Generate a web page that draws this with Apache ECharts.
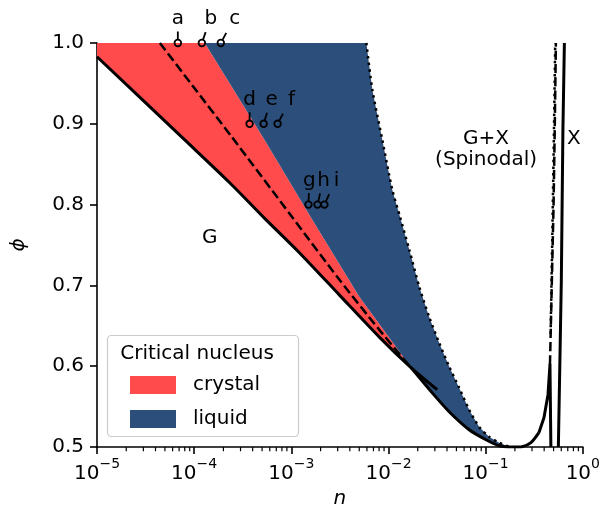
<!DOCTYPE html>
<html>
<head>
<meta charset="utf-8">
<script src="https://cdn.jsdelivr.net/npm/echarts@6/dist/echarts.min.js"></script>
<style>
  html, body { margin: 0; padding: 0; background: #fff; }
  #chart { width: 603px; height: 514px; }
</style>
</head>
<body>
<div id="chart"></div>
<script>
// Phase diagram in the (n, phi) plane. Every point is [n, phi].

// Gas-side boundary (upper straight part plus its short metastable extension)
const gasBoundary = [
  [1e-5, 0.983], [8.0e-5, 0.880], [2.32e-4, 0.827], [5.31e-4, 0.783],
  [1.21e-3, 0.7405], [3.13e-3, 0.688], [8.05e-3, 0.636], [0.01714, 0.598],
  [0.0317, 0.571]
];
// Lower branch: curves down to the minimum, rises to the cusp and drops back
const lowerBranch = [
  [0.01714, 0.598], [0.0282, 0.567], [0.0421, 0.5437], [0.0676, 0.5214],
  [0.1009, 0.509], [0.1374, 0.5016], [0.196, 0.500], [0.237, 0.5004],
  [0.2925, 0.5053], [0.353, 0.5177], [0.398, 0.5363], [0.438, 0.5647],
  [0.459, 0.602], [0.469, 0.500]
];
// Dense-side boundary of the X phase
const xBoundary = [[0.560, 0.500], [0.601, 0.707], [0.624, 0.893], [0.646, 1.000]];
// Spinodal (dotted), left and right branches
const spinodalLeft = [
  [5.92e-3, 1.000], [6.82e-3, 0.942], [8.64e-3, 0.880], [0.01093, 0.8185],
  [0.0132, 0.784], [0.01637, 0.744], [0.0207, 0.6985], [0.0262, 0.661],
  [0.0332, 0.629], [0.0421, 0.5995], [0.0533, 0.5734], [0.0676, 0.546],
  [0.0855, 0.525], [0.1083, 0.5128], [0.1374, 0.5053], [0.174, 0.5004]
];
const spinodalRight = [[0.466, 0.64], [0.485, 0.76], [0.503, 0.88], [0.520, 1.000]];
// Dashed boundaries
const dashedLeft = [
  [4.44e-5, 1.000], [1.037e-4, 0.942], [2.43e-4, 0.884], [1.028e-3, 0.784],
  [3.13e-3, 0.707], [8.05e-3, 0.645], [0.01714, 0.598]
];
const dashedRight = [[0.459, 0.602], [0.475, 0.68], [0.500, 0.80], [0.515, 0.90], [0.528, 1.000]];
// Border between crystal and liquid critical nuclei
const crystalLiquidBorder = [
  [1.285e-4, 1.000], [5.31e-4, 0.880], [1.65e-3, 0.781], [5.01e-3, 0.686], [0.01714, 0.598]
];

// Labelled state points
const pointNames = ['a', 'b', 'c', 'd', 'e', 'f', 'g', 'h', 'i'];
const pointN     = [6.79e-5, 1.2e-4, 1.88e-4, 3.72e-4, 5.19e-4, 7.22e-4, 1.50e-3, 1.86e-3, 2.19e-3];
const pointPhi   = [1.0, 1.0, 1.0, 0.9, 0.9, 0.9, 0.8, 0.8, 0.8];

// Region annotations
const regionText = ['G', 'G+X', '(Spinodal)', 'X'];
const regionN    = [1.445e-4, 0.101, 0.101, 0.808];
const regionPhi  = [0.759, 0.882, 0.856, 0.882];

// Axis ticks
const xDecades = [-5, -4, -3, -2, -1, 0];
const yTicks = [0.5, 0.6, 0.7, 0.8, 0.9, 1.0];

const FONT = 'DejaVu Sans';
const RED = '#ff4b4b';
const BLUE = '#2c4e7b';

// label placement around each state point (pixels)
const labelShift = [[0, -24], [9, -24], [14, -24], [0, -24], [8, -24], [14, -24], [1, -24], [6, -24], [12, -24]];

// polygons for the two filled regions
const crystalPoly = [[1e-5, 1.0]].concat(crystalLiquidBorder,
  gasBoundary.slice(0, 8).reverse());
const liquidPoly = crystalLiquidBorder.slice(0, 1).concat(spinodalLeft,
  lowerBranch.slice(0, 6).reverse(), crystalLiquidBorder.slice().reverse());

// minor ticks of the log axis
const minorTicks = [];
xDecades.slice(0, -1).forEach(d => { for (let k = 2; k <= 9; k++) minorTicks.push([k * Math.pow(10, d), 0.5]); });

const chart = echarts.init(document.getElementById('chart'), null, { renderer: 'canvas' });

function polygonSeries(name, poly, color) {
  return {
    name: name, type: 'custom', coordinateSystem: 'cartesian2d',
    itemStyle: { color: color }, silent: true, z: 1,
    data: [poly[0]],
    renderItem: function (params, api) {
      return {
        type: 'polygon',
        shape: { points: poly.map(p => api.coord(p)) },
        style: { fill: color, stroke: null }
      };
    }
  };
}

function lineSeries(data, width, type, smooth) {
  return {
    type: 'line', data: data, symbol: 'none', silent: true, z: 3,
    smooth: smooth || false,
    lineStyle: { color: '#000', width: width, type: type, cap: 'butt', join: 'round' }
  };
}

const option = {
  animation: false,
  backgroundColor: '#fff',
  grid: { left: 97, right: 19, top: 43, bottom: 67, containLabel: false },
  xAxis: {
    type: 'log', logBase: 10, min: 1e-5, max: 1, interval: 1,
    name: 'n', nameLocation: 'middle', nameGap: 42,
    nameTextStyle: { fontSize: 20, fontFamily: FONT, fontStyle: 'italic', color: '#000' },
    axisLine: { show: true, onZero: false, lineStyle: { color: '#000', width: 1.6 } },
    axisTick: { show: true, inside: false, length: 7, lineStyle: { color: '#000', width: 1.6 } },
    splitLine: { show: false },
    axisLabel: {
      margin: 8, color: '#000',
      formatter: function (v) {
        const e = Math.round(Math.log10(v));
        return '{b|10}{e|' + (e < 0 ? '\u2212' : '') + Math.abs(e) + '}';
      },
      rich: {
        b: { fontSize: 20, fontFamily: FONT, color: '#000', padding: [9, 0, 0, 0] },
        e: { fontSize: 14, fontFamily: FONT, color: '#000', padding: [0, 0, 10, 0] }
      }
    }
  },
  yAxis: {
    type: 'value', min: 0.5, max: 1.0, interval: 0.1,
    name: '\u03d5', nameLocation: 'middle', nameGap: 68, nameRotate: 90,
    nameTextStyle: { fontSize: 20, fontFamily: FONT, fontStyle: 'italic', color: '#000' },
    axisLine: { show: true, onZero: false, lineStyle: { color: '#000', width: 1.6 } },
    axisTick: { show: true, inside: false, length: 7, lineStyle: { color: '#000', width: 1.6 } },
    splitLine: { show: false },
    axisLabel: {
      margin: 13, color: '#000', fontSize: 20, fontFamily: FONT,
      formatter: v => v.toFixed(1)
    }
  },
  legend: {
    left: 130, top: 375, orient: 'vertical', icon: 'rect', selectedMode: false,
    itemWidth: 46, itemHeight: 18, itemGap: 14, padding: 0, z: 5,
    data: ['crystal', 'liquid'],
    textStyle: { fontSize: 20, fontFamily: FONT, color: '#000', lineHeight: 18, padding: [0, 0, 0, 12] }
  },
  graphic: [
    {
      type: 'rect', z: 3,
      shape: { x: 107.5, y: 335.5, width: 191, height: 101, r: 4 },
      style: { fill: 'rgba(255,255,255,0.8)', stroke: '#cccccc', lineWidth: 1.2 }
    },
    {
      type: 'text', z: 4, x: 197, y: 354,
      style: { text: 'Critical nucleus', fontSize: 20, fontFamily: FONT, fill: '#000', align: 'center', verticalAlign: 'middle' }
    }
  ],
  series: [
    polygonSeries('crystal', crystalPoly, RED),
    polygonSeries('liquid', liquidPoly, BLUE),
    lineSeries(gasBoundary, 3, 'solid', 0.25),
    lineSeries(lowerBranch.slice(0, 10), 3, 'solid', 0.25),
    lineSeries(lowerBranch.slice(9), 3, 'solid', false),
    lineSeries(xBoundary, 3, 'solid', false),
    lineSeries(dashedLeft, 2.5, [9.25, 4], 0.25),
    lineSeries(dashedRight, 2.5, [9.25, 4], false),
    lineSeries(spinodalLeft, 2.5, [2.5, 4.1], 0.25),
    lineSeries(spinodalRight, 2.5, [2.5, 4.1], false),
    {
      // state points with short leader strokes and letters
      type: 'custom', coordinateSystem: 'cartesian2d', silent: true, z: 6,
      data: pointN.map((n, i) => [n, pointPhi[i]]),
      renderItem: function (params, api) {
        const i = params.dataIndex;
        const p = api.coord([api.value(0), api.value(1)]);
        const s = labelShift[i];
        const d = [s[0], s[1] - 2];
        const len = Math.hypot(d[0], d[1]);
        const ux = d[0] / len, uy = d[1] / len;
        const r = 3.3;
        return {
          type: 'group',
          children: [
            { type: 'line', shape: { x1: p[0] + ux * r, y1: p[1] + uy * r, x2: p[0] + ux * 11.5, y2: p[1] + uy * 11.5 },
              style: { stroke: '#000', lineWidth: 1.8 } },
            { type: 'circle', shape: { cx: p[0], cy: p[1], r: r },
              style: { fill: 'none', stroke: '#000', lineWidth: 1.8 } },
            { type: 'text', x: p[0] + s[0], y: p[1] + s[1],
              style: { text: pointNames[i], fontSize: 20, fontFamily: FONT, fill: '#000', align: 'center', verticalAlign: 'middle' } }
          ]
        };
      }
    },
    {
      // region names
      type: 'custom', coordinateSystem: 'cartesian2d', silent: true, z: 6,
      data: regionN.map((n, i) => [n, regionPhi[i]]),
      renderItem: function (params, api) {
        const p = api.coord([api.value(0), api.value(1)]);
        return {
          type: 'text', x: p[0], y: p[1],
          style: { text: regionText[params.dataIndex], fontSize: 20, fontFamily: FONT, fill: '#000', align: 'center', verticalAlign: 'middle' }
        };
      }
    },
    {
      // minor ticks at 2..9 x 10^k
      type: 'custom', coordinateSystem: 'cartesian2d', silent: true, z: 6,
      data: minorTicks,
      renderItem: function (params, api) {
        const p = api.coord([api.value(0), api.value(1)]);
        return {
          type: 'line', shape: { x1: p[0], y1: p[1], x2: p[0], y2: p[1] + 4.2 },
          style: { stroke: '#000', lineWidth: 1.2 }
        };
      }
    }
  ]
};

chart.setOption(option);
</script>
</body>
</html>
